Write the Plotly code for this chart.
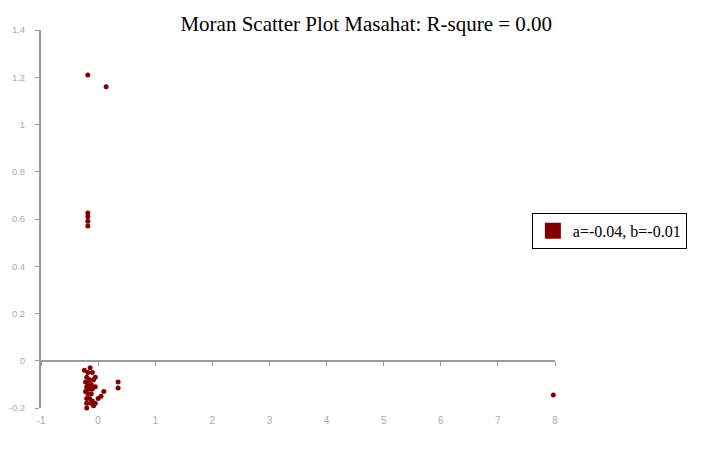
import plotly.graph_objects as go

# Data
x_vals = [-0.18, 0.14, -0.18, -0.18, -0.18, -0.18,
          -0.14, -0.18, -0.10, -0.05, -0.20, -0.15, -0.08, -0.22, -0.17, -0.12,
          -0.20, -0.15, -0.10, -0.05, -0.22, -0.18, -0.12, -0.20, -0.15, 0.05,
          0.10, 0.00, -0.10, -0.20, -0.05, -0.20, -0.08, 0.35, 0.35, -0.24,
          -0.13, -0.19, 7.97]
y_vals = [1.21, 1.16, 0.625, 0.61, 0.59, 0.57,
          -0.03, -0.05, -0.05, -0.07, -0.07, -0.08, -0.08, -0.09, -0.10, -0.10,
          -0.11, -0.12, -0.12, -0.11, -0.13, -0.14, -0.14, -0.16, -0.16, -0.15,
          -0.13, -0.16, -0.17, -0.18, -0.18, -0.20, -0.19, -0.09, -0.115, -0.04,
          -0.18, -0.12, -0.145]
legend_label = "a=-0.04, b=-0.01"
title_text = "Moran Scatter Plot Masahat: R-squre = 0.00"
x_ticks = [-1, 0, 1, 2, 3, 4, 5, 6, 7, 8]
y_ticks = [-0.2, 0, 0.2, 0.4, 0.6, 0.8, 1, 1.2, 1.4]
y_ticklabels = ["-0.2", "0", "0.2", "0.4", "0.6", "0.8", "1", "1.2", "1.4"]

mark_color = "#800000"
axis_color = "#9a9a9a"

fig = go.Figure()
fig.add_trace(go.Scatter(
    x=x_vals, y=y_vals, mode="markers",
    marker=dict(color=mark_color, size=5, line=dict(width=0)),
    showlegend=False, cliponaxis=False,
))
fig.add_trace(go.Scatter(
    x=[None], y=[None], mode="markers", name=legend_label,
    marker=dict(color=mark_color, size=16, symbol="square"),
    showlegend=True,
))

fig.update_layout(
    width=693, height=447,
    margin=dict(l=33, r=146, t=22, b=47, autoexpand=False),
    paper_bgcolor="white", plot_bgcolor="white",
    title=dict(text=title_text, x=0.517, xanchor="center", y=0.966, yanchor="middle",
               font=dict(family="Liberation Serif", size=21, color="black")),
    xaxis=dict(range=[-1, 8], tickvals=x_ticks, ticktext=[str(v) for v in x_ticks],
               showgrid=False, zeroline=False, showline=True, linecolor=axis_color,
               linewidth=2, ticks="outside", ticklen=4, tickcolor=axis_color,
               anchor="free", position=0.125, ticklabelstandoff=46, automargin=False,
               tickfont=dict(family="Liberation Sans", size=10, color="#aaaaaa")),
    yaxis=dict(range=[-0.2, 1.4], tickvals=y_ticks, ticktext=y_ticklabels,
               showgrid=False, zeroline=False, showline=True, linecolor=axis_color,
               linewidth=2, ticks="outside", ticklen=4, tickcolor=axis_color,
               ticklabelstandoff=8, automargin=False,
               tickfont=dict(family="Liberation Sans", size=9.5, color="#aaaaaa")),
    legend=dict(x=0.955, y=0.516, xanchor="left", yanchor="top",
                bordercolor="black", borderwidth=1, bgcolor="white",
                font=dict(family="Liberation Serif", size=16, color="black"),
                itemsizing="trace"),
)

fig.write_html("out.html")
